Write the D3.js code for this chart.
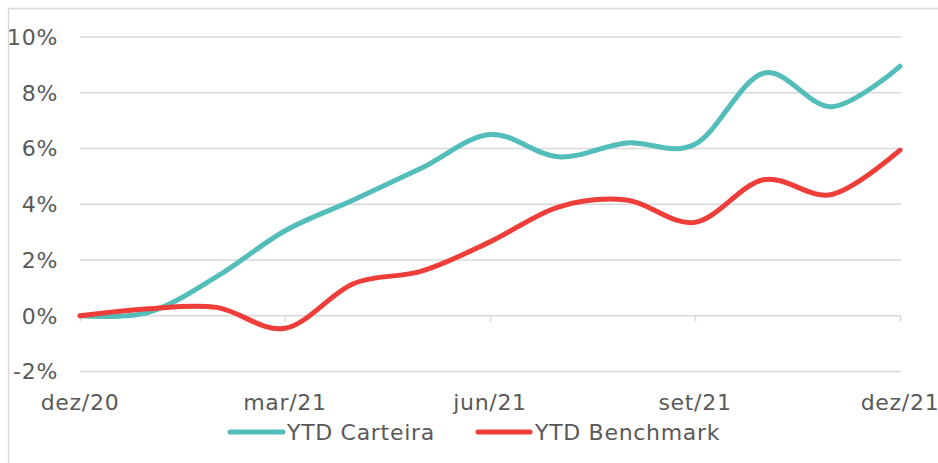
<!DOCTYPE html>
<html><head><meta charset="utf-8">
<script src="https://cdn.jsdelivr.net/npm/d3@7"></script>
<style>body{margin:0;background:#fff}svg{display:block}text{font-family:"DejaVu Sans",sans-serif;fill:#595959;letter-spacing:0.7px}</style>
</head><body>
<svg id="c" width="938" height="463"></svg>
<script>
const months = ["dez/20","jan/21","fev/21","mar/21","abr/21","mai/21","jun/21","jul/21","ago/21","set/21","out/21","nov/21","dez/21"];
const tickLabels = ["dez/20","mar/21","jun/21","set/21","dez/21"];
const carteira = [0, 0.12, 1.4, 3.05, 4.15, 5.3, 6.5, 5.7, 6.2, 6.15, 8.7, 7.5, 8.95];
const benchmark = [0, 0.25, 0.3, -0.45, 1.15, 1.6, 2.65, 3.9, 4.15, 3.35, 4.88, 4.35, 5.94];
const yTicks = [-2, 0, 2, 4, 6, 8, 10];
const seriesNames = ["YTD Carteira", "YTD Benchmark"];
const colors = ["#52BDB9", "#EF3D39"];

const svg = d3.select("#c");
svg.append("rect").attr("x",8.5).attr("y",8.5).attr("width",960).attr("height",480)
  .attr("fill","none").attr("stroke","#d9d9d9").attr("stroke-width",1.5);

const x = d3.scalePoint().domain(months).range([80, 900]);
const y = d3.scaleLinear().domain([-2, 10]).range([371.5, 37]);

svg.append("g").selectAll("line").data(yTicks).join("line")
  .attr("x1",80).attr("x2",901).attr("y1",d=>y(d)).attr("y2",d=>y(d))
  .attr("stroke","#d9d9d9").attr("stroke-width",1.5);

svg.append("g").selectAll("text").data(yTicks).join("text")
  .attr("x",58).attr("y",d=>y(d)).attr("dy","0.36em").attr("text-anchor","end")
  .attr("font-size",22).text(d=>d+"%");

const xAxis = d3.axisBottom(x).tickValues(tickLabels).tickSize(6).tickFormat("");
const gx = svg.append("g").attr("transform",`translate(0,${y(0)})`).call(xAxis);
gx.select(".domain").remove();
gx.selectAll(".tick line").attr("stroke","#d9d9d9").attr("stroke-width",1.5);

svg.append("g").selectAll("text").data(tickLabels).join("text")
  .attr("x",d=>x(d)).attr("y",410).attr("text-anchor","middle").attr("font-size",22).text(d=>d);

const line = d3.line().x((d,i)=>x(months[i])).y(d=>y(d)).curve(d3.curveCardinal.tension(0));
[carteira, benchmark].forEach((s,k)=>{
  svg.append("path").attr("d",line(s)).attr("fill","none").attr("stroke",colors[k])
    .attr("stroke-width",5).attr("stroke-linecap","round").attr("stroke-linejoin","round");
});

const leg = [{x1:230,x2:283,tx:287},{x1:478,x2:530,tx:535}];
leg.forEach((l,k)=>{
  svg.append("line").attr("x1",l.x1).attr("x2",l.x2).attr("y1",432).attr("y2",432)
    .attr("stroke",colors[k]).attr("stroke-width",5).attr("stroke-linecap","round");
  svg.append("text").attr("x",l.tx).attr("y",440).attr("font-size",22).text(seriesNames[k]);
});
</script>
</body></html>
